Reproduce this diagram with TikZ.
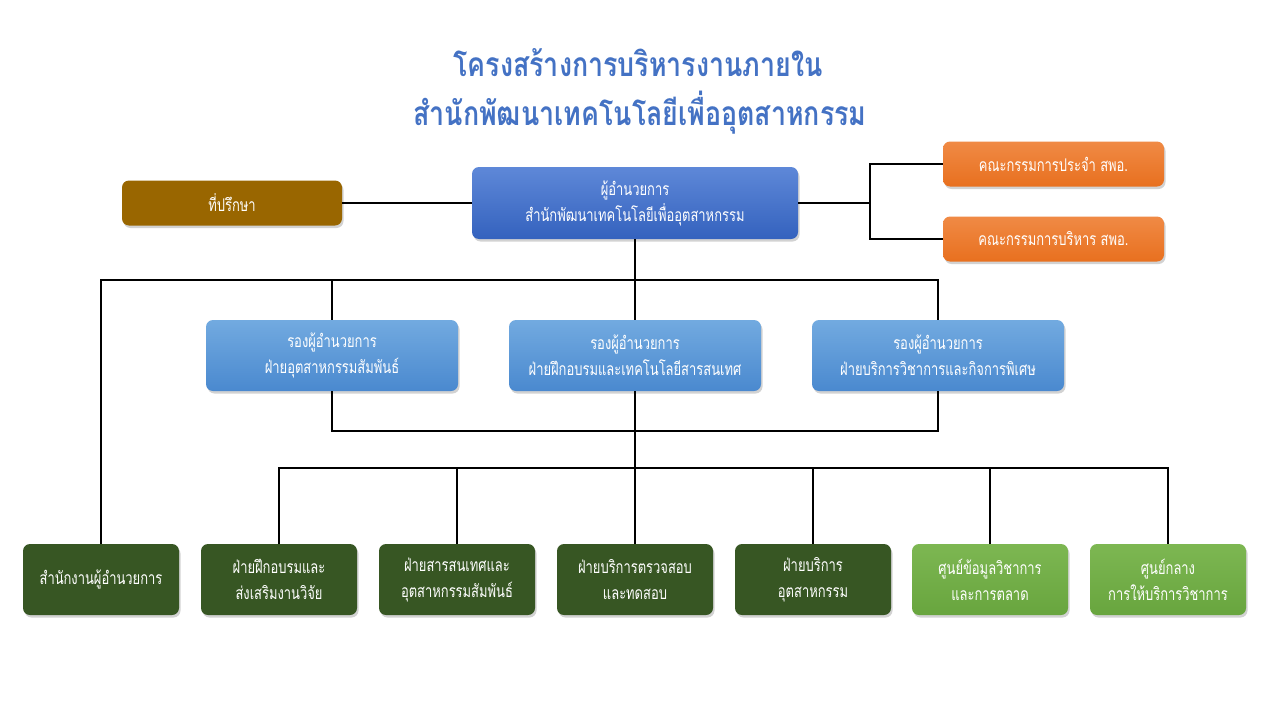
\documentclass[tikz,border=0pt]{standalone}
\usepackage{fontspec}
\setmainfont[Script=Thai]{Loma}
\newfontfamily\boxfont[Script=Thai,FakeStretch=0.74]{Loma}
\newfontfamily\ttlfont[Script=Thai,FakeStretch=0.8]{Loma}
\usetikzlibrary{shadows}
\definecolor{titleblue}{HTML}{4472C4}
\definecolor{advbrown}{HTML}{996600}
\definecolor{dirtop}{HTML}{5E88D8}
\definecolor{dirbot}{HTML}{3462BE}
\definecolor{deptop}{HTML}{72AAE0}
\definecolor{depbot}{HTML}{4A89CF}
\definecolor{orgtop}{HTML}{F08A45}
\definecolor{orgbot}{HTML}{E8701F}
\definecolor{dkgreen}{HTML}{375623}
\definecolor{ltgtop}{HTML}{7DB752}
\definecolor{ltgbot}{HTML}{68A53E}
\tikzset{
  box/.style={rounded corners=7pt, text=white, align=center, font=\boxfont\fontsize{17.5}{26}\selectfont,
    inner sep=2pt, drop shadow={opacity=0.35, shadow xshift=1.5pt, shadow yshift=-2.5pt}},
  advbox/.style={box, fill=advbrown, minimum width=220pt, minimum height=45pt},
  dirbox/.style={box, top color=dirtop, bottom color=dirbot, minimum width=326pt, minimum height=72pt},
  orgbox/.style={box, top color=orgtop, bottom color=orgbot, minimum width=221pt, minimum height=45pt},
  depbox/.style={box, top color=deptop, bottom color=depbot, minimum width=252pt, minimum height=71pt},
  dgbox/.style={box, fill=dkgreen, minimum width=156pt, minimum height=71pt},
  lgbox/.style={box, top color=ltgtop, bottom color=ltgbot, minimum width=156pt, minimum height=71pt},
  conn/.style={draw=black, line width=1.8pt},
  ttl/.style={text=titleblue, font=\ttlfont\fontsize{33.5}{36}\selectfont\bfseries, inner sep=0pt}
}
\begin{document}
\begin{tikzpicture}[x=1pt,y=-1pt]
\useasboundingbox[fill=white] (0,0) rectangle (1280,720);
% title
\node[ttl] (t1) at (638,63) {โครงสร้างการบริหารงานภายใน};
\node[ttl] (t2) at (640,113) {สำนักพัฒนาเทคโนโลยีเพื่ออุตสาหกรรม};
% junctions
\coordinate (rj) at (870,203);
\coordinate (j1) at (635,280);
\coordinate (j2) at (635,431);
\coordinate (j3) at (635,468);
% boxes
\node[advbox] (adv) at (232,203) {ที่ปรึกษา};
\node[dirbox] (dir) at (635,203) {ผู้อำนวยการ\\สำนักพัฒนาเทคโนโลยีเพื่ออุตสาหกรรม};
\node[orgbox] (c1) at (1053.5,164) {คณะกรรมการประจำ สพอ.};
\node[orgbox] (c2) at (1053.5,239) {คณะกรรมการบริหาร สพอ.};
\node[depbox] (d1) at (332,355.5) {รองผู้อำนวยการ\\ฝ่ายอุตสาหกรรมสัมพันธ์};
\node[depbox] (d2) at (635,355.5) {รองผู้อำนวยการ\\ฝ่ายฝึกอบรมและเทคโนโลยีสารสนเทศ};
\node[depbox] (d3) at (938,355.5) {รองผู้อำนวยการ\\ฝ่ายบริการวิชาการและกิจการพิเศษ};
\node[dgbox] (b1) at (101,579.5) {สำนักงานผู้อำนวยการ};
\node[dgbox] (b2) at (279,579.5) {ฝ่ายฝึกอบรมและ\\ส่งเสริมงานวิจัย};
\node[dgbox] (b3) at (457,579.5) {ฝ่ายสารสนเทศและ\\อุตสาหกรรมสัมพันธ์};
\node[dgbox] (b4) at (635,579.5) {ฝ่ายบริการตรวจสอบ\\และทดสอบ};
\node[dgbox] (b5) at (813,579.5) {ฝ่ายบริการ\\อุตสาหกรรม};
\node[lgbox] (b6) at (990,579.5) {ศูนย์ข้อมูลวิชาการ\\และการตลาด};
\node[lgbox] (b7) at (1168,579.5) {ศูนย์กลาง\\การให้บริการวิชาการ};
% connectors
\draw[conn] (adv.east) -- (adv.east -| dir.west);
\draw[conn] (dir.east |- rj) -- (rj);
\draw[conn] (c1.west) -| (rj) |- (c2.west);
\draw[conn] (dir.south) -- (d2.north);
\draw[conn] (b1.north) |- (d3.north |- j1) -- (d3.north);
\draw[conn] (d1.north) -- (d1.north |- j1);
\draw[conn] (d1.south) |- (j2) -| (d3.south);
\draw[conn] (d2.south) -- (j3);
\draw[conn] (b2.north) |- (j3) -| (b7.north);
\draw[conn] (b3.north) -- (b3.north |- j3);
\draw[conn] (b4.north) -- (j3);
\draw[conn] (b5.north) -- (b5.north |- j3);
\draw[conn] (b6.north) -- (b6.north |- j3);
\end{tikzpicture}
\end{document}
